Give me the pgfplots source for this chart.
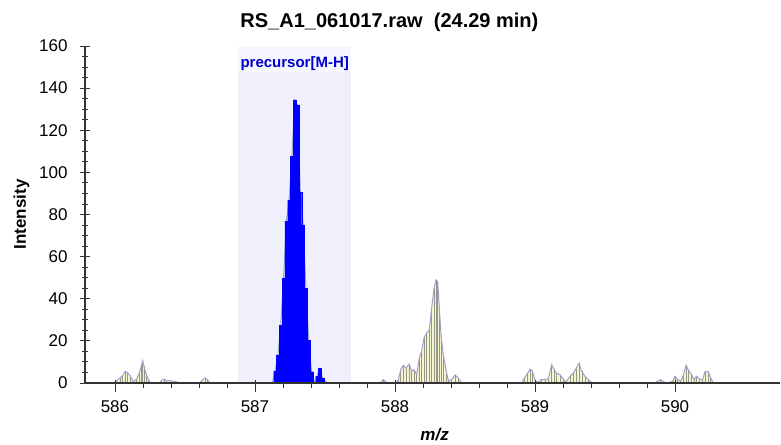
\documentclass[border=0pt]{standalone}
\usepackage{fontspec}
\setmainfont{Liberation Sans}
\usepackage{pgfplots}
\usepackage{pgfplotstable}
\pgfplotsset{compat=1.18}

\definecolor{band}{RGB}{240,240,252}
\definecolor{bandtop}{RGB}{246,246,255}
\definecolor{prof}{RGB}{160,160,205}
\definecolor{hatchfill}{RGB}{245,245,208}
\definecolor{stick}{RGB}{150,150,135}
\definecolor{precblue}{RGB}{0,0,204}

% profile clusters (m/z, intensity)
\pgfplotstableread{
x y
585.993 0
586.012 1.0
586.036 2.4
586.055 3.5
586.071 5.5
586.088 5.0
586.107 3.5
586.131 0.6
586.155 1.9
586.174 4.7
586.191 8.7
586.198 10.6
586.207 7.9
586.221 4.7
586.238 1.6
586.255 0
586.321 0
586.334 1.2
586.350 1.9
586.369 1.1
586.393 1.1
586.416 0.8
586.441 0.5
586.464 0
}\clA
\pgfplotstableread{
x y
586.607 0
586.619 1.1
586.643 2.4
586.659 1.6
586.679 0
}\clB
\pgfplotstableread{
x y
587.893 0
587.916 1.6
587.936 0.5
587.952 0
588.007 0
588.024 1.5
588.041 6.3
588.059 8.4
588.079 7.1
588.102 9.0
588.119 5.5
588.136 6.3
588.155 3.9
588.174 11.9
588.191 15.3
588.207 21.4
588.226 23.7
588.245 25.3
588.262 35.6
588.279 45.1
588.293 49.0
588.305 48.2
588.316 36.4
588.329 22.9
588.345 13.4
588.364 6.3
588.381 1.1
588.405 1.6
588.429 3.9
588.452 2.4
588.476 0
}\clC
\pgfplotstableread{
x y
588.905 0
588.924 2.4
588.948 4.7
588.964 6.6
588.981 5.8
589.000 1.6
589.019 0.2
589.043 1.6
589.071 1.6
589.095 2.0
589.119 8.7
589.138 6.3
589.155 4.7
589.179 3.9
589.202 2.0
589.219 0.2
589.250 3.2
589.274 4.7
589.298 7.4
589.314 9.5
589.334 5.5
589.357 3.2
589.381 1.6
589.409 0
}\clD
\pgfplotstableread{
x y
589.857 0
589.874 0.8
589.898 1.6
589.921 0.5
589.945 0
589.984 0.8
590.000 3.2
590.016 1.9
590.041 0.8
590.059 3.6
590.079 8.4
590.095 6.3
590.119 3.9
590.136 1.6
590.155 3.2
590.174 1.9
590.198 1.6
590.214 5.4
590.238 5.4
590.255 2.4
590.274 0
}\clE
% precursor bins (centre, intensity)
\pgfplotstableread{
x y
587.104 0
587.124 0.3
587.144 5.7
587.164 13.3
587.184 27.5
587.204 49.7
587.224 76.9
587.244 86.9
587.264 107.5
587.284 134.4
587.304 132.0
587.324 90.8
587.344 75.0
587.364 45.0
587.384 20.4
587.404 5.4
587.424 0.5
587.444 3.3
587.464 7.0
587.484 2.2
587.504 0.5
587.524 0
}\prec

\pgfplotsset{
  isofill/.style={fill=hatchfill, draw=none},
  isostick/.style={ycomb, stick, line width=0.5bp, mark=none},
  isoline/.style={prof, line width=1bp, mark=none},
}

\begin{document}
\begin{tikzpicture}
\begin{axis}[
    name=ax,
    width=695bp, height=337bp, scale only axis,
    xmin=585.786, xmax=590.75,
    ymin=0, ymax=160,
    axis lines=left,
    axis line style={-, black!80, line width=1.1bp},
    clip=false,
    axis on top,
    xtick={586,587,588,589,590},
    ytick={0,20,...,160},
    minor x tick num=4,
    minor y tick num=3,
    tick align=center,
    major tick length=11bp,
    minor tick length=6bp,
    tick style={black!80, line width=0.9bp},
    major x tick style={yshift=-3bp},
    minor x tick style={yshift=-1.5bp},
    /pgf/number format/assume math mode=true,
    ticklabel style={font=\fontsize{17bp}{20bp}\selectfont, inner sep=0pt},
    yticklabel style={anchor=east, xshift=-11.7bp},
    xticklabel style={anchor=north, yshift=-12bp},
    title={RS\_A1\_061017.raw\ \ (24.29 min)},
    title style={font=\bfseries\fontsize{20bp}{23bp}\selectfont,
        at={(axis description cs:0.438,1.0535)}, anchor=center, inner sep=0pt},
    xlabel={m/z},
    xlabel style={font=\bfseries\itshape\fontsize{17bp}{20bp}\selectfont,
        at={(axis description cs:0.503,-0.1528)}, anchor=center, inner sep=0pt},
    ylabel={Intensity},
    ylabel style={font=\bfseries\fontsize{17bp}{20bp}\selectfont,
        at={(axis description cs:-0.0915,0.5)}, anchor=center, inner sep=0pt},
]
% precursor window
\addplot[fill=band, draw=none] coordinates {(586.879,0) (586.879,159.5) (587.686,159.5) (587.686,0)} --cycle;
\addplot[fill=bandtop, draw=none] coordinates {(586.879,147.5) (586.879,159.5) (587.686,159.5) (587.686,147.5)} --cycle;

% other isotopes / noise: filled profile with sticks
\addplot[isofill] table {\clA} \closedcycle;
\addplot[isostick] table {\clA};
\addplot[isoline] table {\clA};
\addplot[isofill] table {\clB} \closedcycle;
\addplot[isostick] table {\clB};
\addplot[isoline] table {\clB};
\addplot[isofill] table {\clC} \closedcycle;
\addplot[isostick] table {\clC};
\addplot[isoline] table {\clC};
\addplot[isofill] table {\clD} \closedcycle;
\addplot[isostick] table {\clD};
\addplot[isoline] table {\clD};
\addplot[isofill] table {\clE} \closedcycle;
\addplot[isostick] table {\clE};
\addplot[isoline] table {\clE};

% precursor profile and bars
\addplot[isoline] table {\prec};
\addplot[ybar, bar width=0.02, bar shift=0pt, fill=blue, draw=blue, line width=0.2bp] table {\prec};

\node[font=\bfseries\fontsize{15bp}{18bp}\selectfont, text=precblue, inner sep=0pt]
  at (axis cs:587.284,151.5) {precursor[M-H]};
\end{axis}
\pgfresetboundingbox
\path[use as bounding box] (ax.south west) ++(-85bp,-62bp) rectangle ++(781bp,445bp);
\end{tikzpicture}
\end{document}
